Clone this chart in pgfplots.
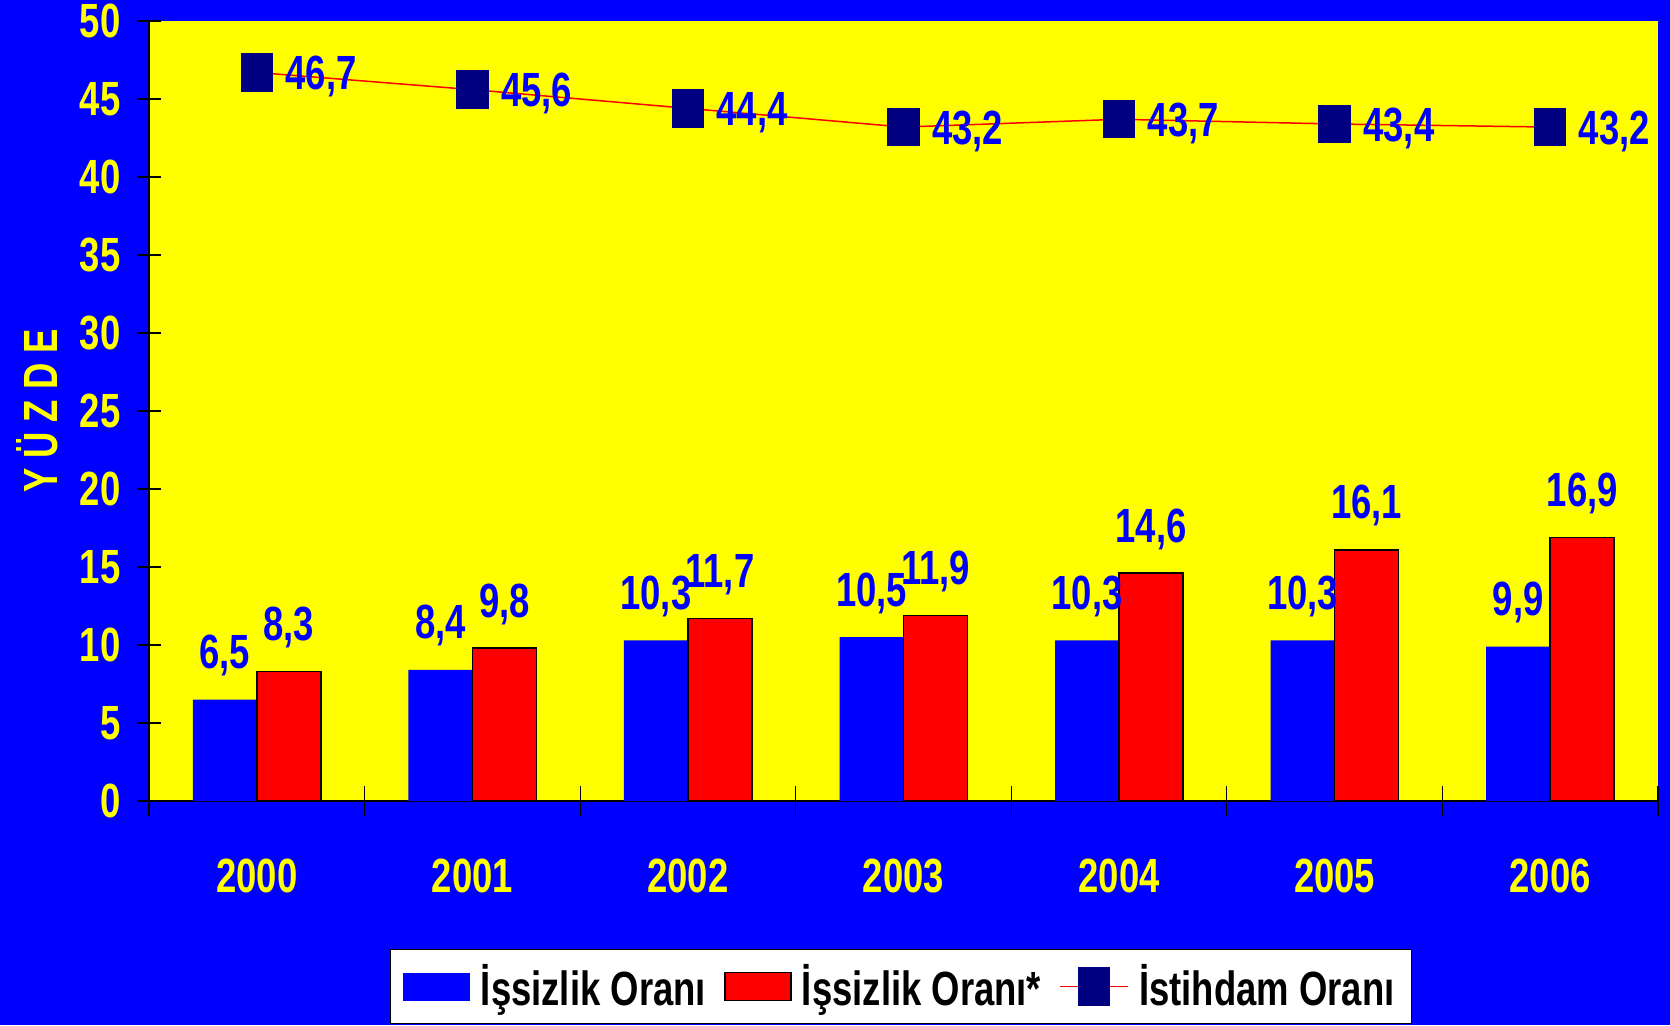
\documentclass[border=0pt]{standalone}
\usepackage{pgfplots}
\pgfplotsset{compat=1.18}
\usepackage{fontspec}
\setmainfont{Liberation Sans}[FakeStretch=0.76]
\definecolor{bgblue}{RGB}{0,0,255}
\definecolor{navy}{RGB}{0,0,128}
\definecolor{ylw}{RGB}{255,255,0}
\definecolor{rd}{RGB}{255,0,0}
\newcommand{\bigf}{\fontsize{24}{28}\selectfont\bfseries}
\pgfplotsset{
  mylinelegend/.style={legend image code/.code={\draw[mark repeat=2,mark phase=2,##1] plot coordinates {(0pt,0pt) (17pt,0pt) (34pt,0pt)};}},
  bluelegend/.style={legend image code/.code={\fill[bgblue] (0pt,-7pt) rectangle (33.5pt,7pt);}},
  redlegend/.style={legend image code/.code={\draw[fill=rd, draw=black, line width=0.8pt] (0pt,-7pt) rectangle (33pt,7pt);}},
}
\begin{document}
\begin{tikzpicture}
\fill[bgblue] (0,0) rectangle (835pt,512.5pt);
\path[use as bounding box] (0,0) rectangle (835pt,512.5pt);
\begin{axis}[
  at={(74.5pt,112pt)}, anchor=south west,
  scale only axis, width=754.5pt, height=390pt,
  xmin=-0.5, xmax=6.5, ymin=0, ymax=50,
  axis lines*=left,
  axis line style={black, line width=0.8pt},
  axis background/.style={fill=ylw},
  xtick={0,...,6}, xticklabels={2000,2001,2002,2003,2004,2005,2006},
  minor xtick={-0.5,0.5,...,6.5},
  ytick={0,5,...,50},
  tick align=center,
  major tick length=11.5pt, minor tick length=15pt,
  major x tick style={draw=none},
  minor x tick style={black, line width=0.6pt},
  ytick style={black, line width=0.8pt},
  ticklabel style={font=\bigf, text=ylw},
  /pgf/number format/assume math mode=true,
  yticklabel style={xshift=-5pt},
  xticklabel style={yshift=-19.5pt},
  ylabel={Y\hspace{5pt}Ü\hspace{5pt}Z\hspace{5pt}D\hspace{5pt}E},
  ylabel style={font=\bigf, text=ylw, at={(axis description cs:-0.0742,0.5)}, anchor=center},
  legend style={at={(0.1597,-0.1897)}, anchor=north west, fill=white, draw=black, line width=0.5pt,
    font=\bigf, text=black, legend columns=3, inner xsep=6.5pt, inner ysep=5.5pt,
    /tikz/every even column/.append style={column sep=7pt},
    /tikz/every odd column/.append style={column sep=3.2pt}},
  legend cell align=left,
]
\addplot[ybar, bar width=32pt, bar shift=-16pt, fill=bgblue, draw=none, bluelegend,
  nodes near coords, point meta=explicit symbolic,
  nodes near coords style={anchor=base, xshift=-16pt, yshift=15.5pt, inner sep=0pt, font=\bigf, text=bgblue}]
  coordinates {(0,6.5) [6,5] (1,8.4) [8,4] (2,10.3) [10,3] (3,10.5) [10,5] (4,10.3) [10,3] (5,10.3) [10,3] (6,9.9) [9,9]};
\addlegendentry{İşsizlik Oranı}
\addplot[ybar, bar width=32pt, bar shift=16pt, fill=rd, draw=black, line width=0.8pt, redlegend,
  nodes near coords, point meta=explicit symbolic,
  nodes near coords style={anchor=base, xshift=16pt, yshift=15.5pt, inner sep=0pt, font=\bigf, text=bgblue}]
  coordinates {(0,8.3) [8,3] (1,9.8) [9,8] (2,11.7) [11,7] (3,11.9) [11,9] (4,14.6) [14,6] (5,16.1) [16,1] (6,16.9) [16,9]};
\addlegendentry{İşsizlik Oranı*}
\addplot[rd, line width=0.75pt, mark=square*, mark size=7.75pt,
  mark options={fill=navy, draw=navy, yscale=1.19, solid}, mylinelegend,
  nodes near coords, point meta=explicit symbolic,
  nodes near coords style={anchor=base west, xshift=14pt, yshift=-8.6pt, inner sep=0pt, font=\bigf, text=bgblue}]
  coordinates {(0,46.7) [46,7] (1,45.6) [45,6] (2,44.4) [44,4] (3,43.2) [43,2] (4,43.7) [43,7] (5,43.4) [43,4] (6,43.2) [43,2]};
\addlegendentry{İstihdam Oranı}
\end{axis}
\end{tikzpicture}
\end{document}
